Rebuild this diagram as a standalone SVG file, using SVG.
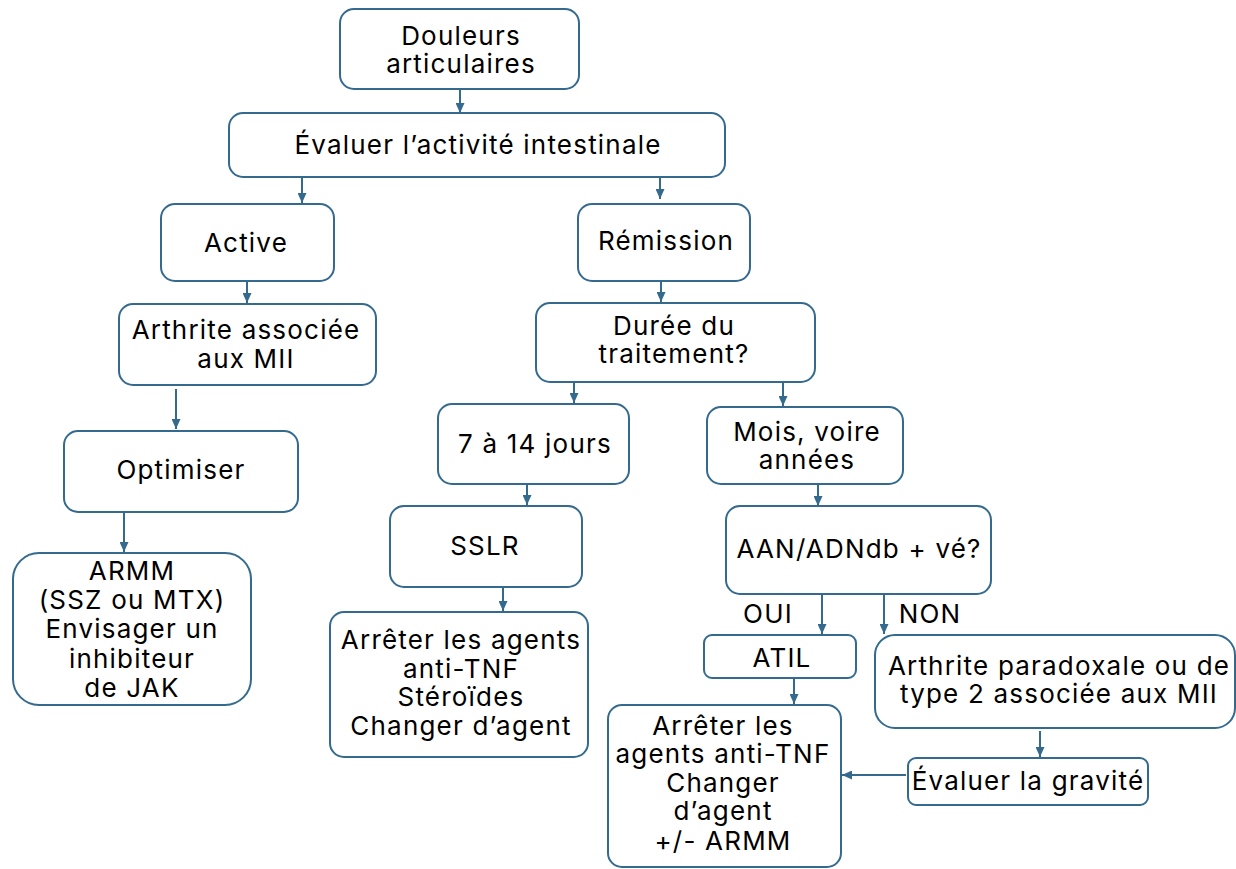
<svg xmlns="http://www.w3.org/2000/svg" width="1236" height="869" viewBox="0 0 1236 869">
<defs>
<marker id="ah" viewBox="0 0 10 9" refX="10" refY="4.5" markerWidth="10" markerHeight="9" orient="auto-start-reverse" markerUnits="userSpaceOnUse">
<path d="M0,0 L10,4.5 L0,9 z" fill="#336a8e"/>
</marker>
<style>
.n rect{fill:#fff;stroke:#336a8e;stroke-width:2}
text{font-family:Inter,"Noto Sans",sans-serif;font-size:26px;letter-spacing:1.2px;fill:#000;text-anchor:middle}
.e line{stroke:#336a8e;stroke-width:2;marker-end:url(#ah)}
</style>
</defs>
<rect width="1236" height="869" fill="#fff"/>
<g class="e">
<line x1="460" y1="89" x2="460" y2="113"/>
<line x1="302" y1="177" x2="302" y2="203"/>
<line x1="660" y1="174" x2="660" y2="199"/>
<line x1="247" y1="282" x2="247" y2="303"/>
<line x1="661" y1="281" x2="661" y2="302"/>
<line x1="176" y1="389" x2="176" y2="429"/>
<line x1="574" y1="382" x2="574" y2="403"/>
<line x1="783" y1="382" x2="783" y2="406"/>
<line x1="124" y1="513" x2="124" y2="552"/>
<line x1="527" y1="484" x2="527" y2="505"/>
<line x1="818" y1="484" x2="818" y2="506"/>
<line x1="503" y1="587" x2="503" y2="611"/>
<line x1="822" y1="594" x2="822" y2="634"/>
<line x1="884" y1="594" x2="884" y2="634"/>
<line x1="794" y1="678" x2="794" y2="704"/>
<line x1="1040" y1="731" x2="1040" y2="757"/>
<line x1="906" y1="775" x2="842" y2="775"/>
</g>
<g id="n1" class="n"><rect x="340" y="9" width="239" height="80" rx="14"/><text x="461" y="45">Douleurs</text><text x="461" y="73">articulaires</text></g>
<g id="n2" class="n"><rect x="229" y="113" width="496" height="64" rx="14"/><text x="478" y="154">Évaluer l’activité intestinale</text></g>
<g id="n3" class="n"><rect x="161" y="204" width="173" height="77" rx="14"/><text x="246" y="252">Active</text></g>
<g id="n4" class="n"><rect x="578" y="204" width="172" height="77" rx="14"/><text x="666" y="250">Rémission</text></g>
<g id="n5" class="n"><rect x="119" y="304" width="257" height="81" rx="14"/><text x="246" y="339">Arthrite associée</text><text x="246" y="368">aux MII</text></g>
<g id="n6" class="n"><rect x="536" y="303" width="279" height="79" rx="14"/><text x="674" y="335">Durée du</text><text x="674" y="363">traitement?</text></g>
<g id="n7" class="n"><rect x="64" y="431" width="234" height="81" rx="14"/><text x="181" y="479">Optimiser</text></g>
<g id="n8" class="n"><rect x="438" y="404" width="191" height="80" rx="14"/><text x="535" y="453">7 à 14 jours</text></g>
<g id="n9" class="n"><rect x="707" y="407" width="196" height="77" rx="14"/><text x="807" y="441">Mois, voire</text><text x="807" y="469">années</text></g>
<g id="n10" class="n"><rect x="390" y="506" width="192" height="81" rx="14"/><text x="485" y="555">SSLR</text></g>
<g id="n11" class="n"><rect x="726" y="506" width="265" height="88" rx="14"/><text x="859" y="558">AAN/ADNdb + vé?</text></g>
<g id="n12" class="n"><rect x="13" y="553" width="238" height="152" rx="26"/><text x="132" y="580">ARMM</text><text x="132" y="609">(SSZ ou MTX)</text><text x="132" y="638">Envisager un</text><text x="132" y="668">inhibiteur</text><text x="132" y="697">de JAK</text></g>
<g id="n13" class="n"><rect x="330" y="612" width="258" height="145" rx="14"/><text x="461" y="649">Arrêter les agents</text><text x="461" y="678">anti-TNF</text><text x="461" y="706">Stéroïdes</text><text x="461" y="735">Changer d’agent</text></g>
<g id="n14" class="n"><rect x="704" y="635" width="152" height="43" rx="8"/><text x="782" y="667">ATIL</text></g>
<g id="n15" class="n"><rect x="875" y="635" width="360" height="93" rx="20"/><text x="1059" y="675">Arthrite paradoxale ou de</text><text x="1059" y="703">type 2 associée aux MII</text></g>
<g id="n16" class="n"><rect x="908" y="758" width="240" height="47" rx="8"/><text x="1028" y="790">Évaluer la gravité</text></g>
<g id="n17" class="n"><rect x="608" y="705" width="233" height="162" rx="14"/><text x="723" y="735">Arrêter les</text><text x="723" y="763">agents anti-TNF</text><text x="723" y="792">Changer</text><text x="723" y="820">d’agent</text><text x="723" y="850">+/- ARMM</text></g>
<g id="labels"><text x="768" y="623">OUI</text><text x="930" y="623">NON</text></g>
</svg>
